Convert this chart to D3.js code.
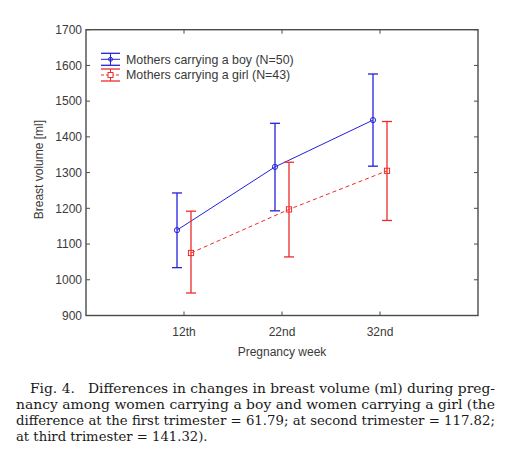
<!DOCTYPE html>
<html><head><meta charset="utf-8">
<script src="https://cdn.jsdelivr.net/npm/d3@7"></script>
<style>body{margin:0;background:#fff}svg{display:block}</style>
</head><body>
<svg id="c" width="510" height="463"></svg>
<script>
const categories = ["12th", "22nd", "32nd"];
const yTicks = [900, 1000, 1100, 1200, 1300, 1400, 1500, 1600, 1700];
const boyMean = [1139, 1316, 1447];
const boyLow  = [1034, 1193, 1318];
const boyHigh = [1243, 1438, 1576];
const girlMean = [1075, 1197, 1305];
const girlLow  = [963, 1064, 1166];
const girlHigh = [1192, 1329, 1443];
const legendLabels = ["Mothers carrying a boy (N=50)", "Mothers carrying a girl (N=43)"];
const captionLines = [
  "Fig. 4.   Differences in changes in breast volume (ml) during preg-",
  "nancy among women carrying a boy and women carrying a girl (the",
  "difference at the first trimester = 61.79; at second trimester = 117.82;",
  "at third trimester = 141.32)."
];

const svg = d3.select("#c");
const L = 86, R = 478, T = 29.7, B = 315.5;
const x = d3.scaleLinear().domain([0, 4]).range([L, R]);
const y = d3.scaleLinear().domain([900, 1700]).range([B, T]);
const axisColor = "#4a4a4a", textColor = "#3a3a3a";
const font = "Liberation Sans, Arial, sans-serif";
const fs = 12;

// frame
svg.append("rect").attr("x", L).attr("y", T).attr("width", R - L).attr("height", B - T)
  .attr("fill", "none").attr("stroke", axisColor).attr("stroke-width", 1.4);

// ticks inward
const tl = 4;
yTicks.forEach(v => {
  svg.append("line").attr("x1", L).attr("x2", L + tl).attr("y1", y(v)).attr("y2", y(v)).attr("stroke", axisColor);
  svg.append("line").attr("x1", R).attr("x2", R - tl).attr("y1", y(v)).attr("y2", y(v)).attr("stroke", axisColor);
  svg.append("text").attr("x", L - 4).attr("y", y(v)).attr("dy", "0.35em").attr("text-anchor", "end")
    .attr("font-family", font).attr("font-size", fs).attr("fill", textColor).text(v);
});
categories.forEach((c, i) => {
  const xx = x(i + 1);
  svg.append("line").attr("x1", xx).attr("x2", xx).attr("y1", B).attr("y2", B - tl).attr("stroke", axisColor);
  svg.append("line").attr("x1", xx).attr("x2", xx).attr("y1", T).attr("y2", T + tl).attr("stroke", axisColor);
  svg.append("text").attr("x", xx).attr("y", 335.5).attr("text-anchor", "middle")
    .attr("font-family", font).attr("font-size", fs).attr("fill", textColor).text(c);
});
svg.append("text").attr("x", x(2)).attr("y", 355.5).attr("text-anchor", "middle")
  .attr("font-family", font).attr("font-size", fs).attr("fill", textColor).text("Pregnancy week");
svg.append("text").attr("transform", `translate(43,${(T + B) / 2 - 3}) rotate(-90)`).attr("text-anchor", "middle")
  .attr("font-family", font).attr("font-size", fs).attr("fill", textColor).text("Breast volume [ml]");

const blue = "#2222dd", red = "#ee2a2a";
const off = 7, cap = 5;
function series(mean, lo, hi, dx, color, dash, marker) {
  const line = d3.line().x((d, i) => x(i + 1) + dx).y(d => y(d));
  svg.append("path").attr("d", line(mean)).attr("fill", "none").attr("stroke", color)
    .attr("stroke-width", 1).attr("stroke-dasharray", dash);
  mean.forEach((m, i) => {
    const xx = x(i + 1) + dx;
    const g = svg.append("g").attr("stroke", color).attr("stroke-width", 1.3);
    g.append("line").attr("x1", xx).attr("x2", xx).attr("y1", y(lo[i])).attr("y2", y(hi[i]));
    g.append("line").attr("x1", xx - cap).attr("x2", xx + cap).attr("y1", y(lo[i])).attr("y2", y(lo[i]));
    g.append("line").attr("x1", xx - cap).attr("x2", xx + cap).attr("y1", y(hi[i])).attr("y2", y(hi[i]));
    if (marker === "circle") g.append("circle").attr("cx", xx).attr("cy", y(m)).attr("r", 2.6).attr("fill", "none").attr("stroke-width", 1);
    else g.append("rect").attr("x", xx - 2.6).attr("y", y(m) - 2.6).attr("width", 5.2).attr("height", 5.2).attr("fill", "none").attr("stroke-width", 1);
  });
}
series(boyMean, boyLow, boyHigh, -off, blue, null, "circle");
series(girlMean, girlLow, girlHigh, off, red, "4,3", "square");

// legend
const legY = [59.3, 75];
const legColors = [blue, red];
legendLabels.forEach((t, i) => {
  const yy = legY[i], c = legColors[i];
  const g = svg.append("g").attr("stroke", c);
  g.append("line").attr("x1", 101).attr("x2", 120).attr("y1", yy).attr("y2", yy).attr("stroke-dasharray", i ? "3,2" : null);
  g.append("line").attr("x1", 101).attr("x2", 120).attr("y1", yy - 6).attr("y2", yy - 6).attr("stroke-width", 1.3);
  g.append("line").attr("x1", 101).attr("x2", 120).attr("y1", yy + 6).attr("y2", yy + 6).attr("stroke-width", 1.3);
  g.append("line").attr("x1", 110.5).attr("x2", 110.5).attr("y1", yy - 6).attr("y2", yy + 6);
  if (i === 0) g.append("circle").attr("cx", 110.5).attr("cy", yy).attr("r", 2).attr("fill", "none");
  else g.append("rect").attr("x", 108).attr("y", yy - 2.5).attr("width", 5).attr("height", 5).attr("fill", "#fff");
  svg.append("text").attr("x", 126).attr("y", yy).attr("dy", "0.35em").attr("font-family", font)
    .attr("font-size", 12.4).attr("fill", textColor).text(t);
});

// caption
const capY = [393, 409, 425, 441];
const capX = [30, 16, 16, 16];
const capW = [465, 479, 479, null];
captionLines.forEach((t, i) => {
  const tx = svg.append("text").attr("x", capX[i]).attr("y", capY[i])
    .attr("font-family", "DejaVu Serif, serif").attr("font-size", 13.2).attr("fill", "#1a1a1a")
    .attr("xml:space", "preserve").style("white-space", "pre").text(t);
  if (capW[i]) tx.attr("textLength", capW[i]).attr("lengthAdjust", "spacingAndGlyphs");
});
</script>
</body></html>
